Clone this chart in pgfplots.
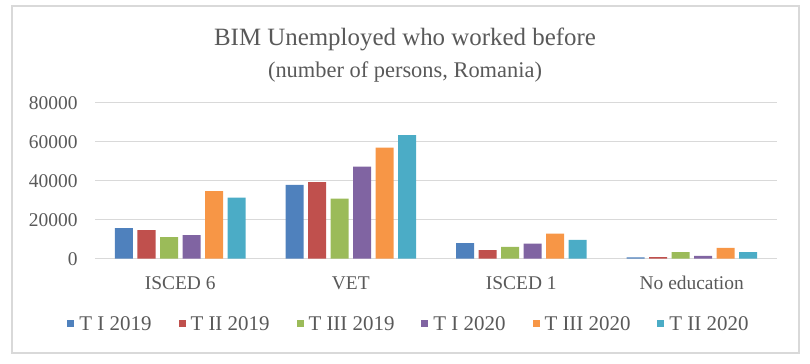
\documentclass[border=0pt]{standalone}
\usepackage{pgfplots}
\pgfplotsset{compat=1.18}
\usepackage{fontspec}
\setmainfont{Liberation Serif}
\definecolor{txt}{HTML}{595959}
\definecolor{gridc}{HTML}{D9D9D9}
\definecolor{c1}{HTML}{4F81BD}
\definecolor{c2}{HTML}{C0504D}
\definecolor{c3}{HTML}{9BBB59}
\definecolor{c4}{HTML}{8064A2}
\definecolor{c5}{HTML}{F79646}
\definecolor{c6}{HTML}{4BACC6}
\begin{document}
\begin{tikzpicture}
\path[use as bounding box] (0,0) rectangle (810bp,364bp);
\draw[gridc, line width=1.6bp] (12bp,358bp) rectangle (799bp,11bp);
\node[txt, font=\fontsize{25}{30}\selectfont, anchor=base] at (405bp,318bp) {BIM Unemployed who worked before};
\node[txt, font=\fontsize{22.5}{27}\selectfont, anchor=base] at (405bp,286bp) {(number of persons, Romania)};
\begin{axis}[
  at={(95bp,105.3bp)}, anchor=south west,
  scale only axis, width=682bp, height=156bp,
  xmin=-0.5, xmax=3.5, ymin=0, ymax=80000,
  ytick={0,20000,40000,60000,80000},
  xtick={0,1,2,3},
  xticklabels={ISCED 6, VET, ISCED 1, No education},
  axis line style={draw=none},
  major tick length=0pt,
  ymajorgrids, grid style={gridc, line width=1.4bp},
  scaled y ticks=false,
  /pgf/number format/assume math mode=true,
  yticklabel={\pgfmathprintnumber[fixed,precision=0,1000 sep={}]{\tick}},
  ticklabel style={txt, font=\fontsize{19.5}{23}\selectfont},
  yticklabel style={anchor=east, xshift=-14bp},
  xticklabel style={anchor=base, yshift=-31bp},
  ybar, bar width=18bp,
  legend columns=6,
  legend style={draw=none, fill=none, at={(0.4604,-0.4186)}, anchor=center,
    font=\fontsize{21}{24}\selectfont, text=txt,
    /tikz/every odd column/.append style={column sep=3bp},
    /tikz/every even column/.append style={column sep=25bp}},
  legend image code/.code={\fill[#1] (0bp,-3.5bp) rectangle (7bp,3.5bp);},
]
\addplot[fill=c1, draw=none, bar shift=-56.25bp] coordinates {(0,15700) (1,37800) (2,8000) (3,700)};
\addplot[fill=c2, draw=none, bar shift=-33.75bp] coordinates {(0,14700) (1,39300) (2,4450) (3,850)};
\addplot[fill=c3, draw=none, bar shift=-11.25bp] coordinates {(0,11100) (1,30800) (2,6000) (3,3400)};
\addplot[fill=c4, draw=none, bar shift=11.25bp] coordinates {(0,12100) (1,47200) (2,7700) (3,1400)};
\addplot[fill=c5, draw=none, bar shift=33.75bp] coordinates {(0,34700) (1,56900) (2,12800) (3,5500)};
\addplot[fill=c6, draw=none, bar shift=56.25bp] coordinates {(0,31300) (1,63400) (2,9600) (3,3400)};
\legend{T I 2019, T II 2019, T III 2019, T I 2020, T III 2020, T II 2020}
\end{axis}
\end{tikzpicture}
\end{document}
